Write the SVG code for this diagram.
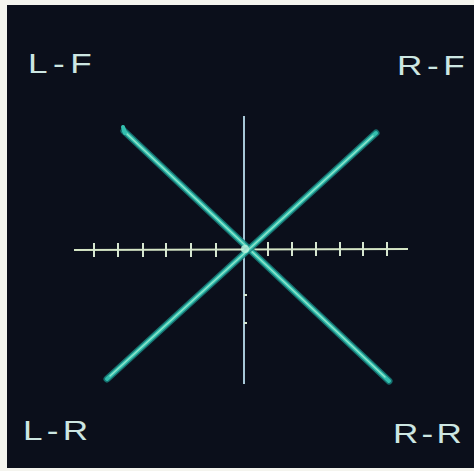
<svg xmlns="http://www.w3.org/2000/svg" width="474" height="471" viewBox="0 0 474 471">
  <defs>
    <style>
      .lbl { font-family: "Liberation Sans", Arial, sans-serif; font-size: 27px; fill: #cde6e2; }
      .glow { stroke: #17807c; stroke-width: 7; stroke-linecap: round; fill: none; opacity: 0.85; }
      .core { stroke: #33bfae; stroke-width: 4; stroke-linecap: round; fill: none; }
      .hi { stroke: #a6efd2; stroke-width: 1.4; stroke-linecap: round; fill: none; opacity: 0.8; }
      .axis { stroke: #d6e6c6; stroke-width: 1.8; fill: none; }
      .tick { stroke: #d6e6d0; stroke-width: 2; }
    </style>
  </defs>
  <rect x="0" y="0" width="474" height="471" fill="#f4f4ee"/>
  <rect id="screen" x="7" y="5" width="467" height="463" fill="#0b0f1b"/>

  <g id="axes">
    <line class="axis" x1="74" y1="250" x2="408" y2="249"/>
    <line x1="244" y1="116" x2="244" y2="384" stroke="#b8dcec" stroke-width="1.8"/>
    <g id="ticks">
      <line class="tick" x1="94" y1="243" x2="94" y2="257"/>
      <line class="tick" x1="118" y1="243" x2="118" y2="257"/>
      <line class="tick" x1="143" y1="243" x2="143" y2="257"/>
      <line class="tick" x1="166" y1="243" x2="166" y2="257"/>
      <line class="tick" x1="191" y1="243" x2="191" y2="257"/>
      <line class="tick" x1="216" y1="243" x2="216" y2="257"/>
      <line class="tick" x1="268" y1="242" x2="268" y2="256"/>
      <line class="tick" x1="292" y1="242" x2="292" y2="256"/>
      <line class="tick" x1="316" y1="242" x2="316" y2="256"/>
      <line class="tick" x1="340" y1="242" x2="340" y2="256"/>
      <line class="tick" x1="363" y1="242" x2="363" y2="256"/>
      <line class="tick" x1="387" y1="242" x2="387" y2="256"/>
      <line class="tick" x1="244" y1="295" x2="247" y2="295"/>
      <line class="tick" x1="244" y1="323" x2="247" y2="323"/>
    </g>
  </g>

  <g id="traces">
    <line class="glow" x1="124" y1="131" x2="389" y2="381"/>
    <line class="core" x1="124" y1="131" x2="389" y2="381"/>
    <line class="hi" x1="126" y1="133" x2="385" y2="377"/>
    <line x1="123" y1="127" x2="125" y2="133" stroke="#33bfae" stroke-width="4" stroke-linecap="round"/>
    <line class="glow" x1="376" y1="133" x2="107" y2="379"/>
    <line class="core" x1="376" y1="133" x2="107" y2="379"/>
    <line class="hi" x1="373" y1="136" x2="110" y2="376"/>
    <circle cx="245" cy="249" r="4" fill="#bff5e0" opacity="0.8"/>
  </g>

  <g id="labels">
    <text class="lbl" transform="translate(28,73) scale(1.3,1)" textLength="49" lengthAdjust="spacing">L-F</text>
    <text class="lbl" transform="translate(397,75) scale(1.3,1)" textLength="52" lengthAdjust="spacing">R-F</text>
    <text class="lbl" transform="translate(23,440) scale(1.3,1)" textLength="50" lengthAdjust="spacing">L-R</text>
    <text class="lbl" transform="translate(393,443) scale(1.3,1)" textLength="53" lengthAdjust="spacing">R-R</text>
  </g>
</svg>
